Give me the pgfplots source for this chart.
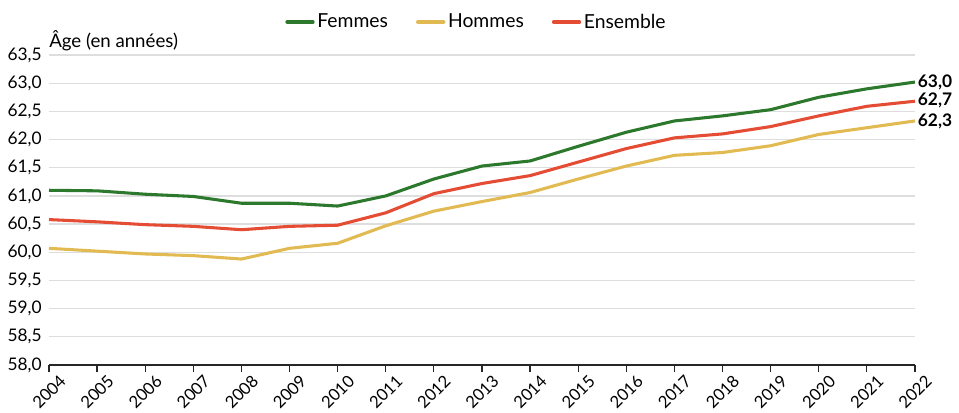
\documentclass[border=0pt]{standalone}
\usepackage{fontspec}
\setmainfont{Lato}
\usepackage{pgfplots}
\pgfplotsset{compat=1.18}
\definecolor{cF}{RGB}{44,120,44}
\definecolor{cH}{RGB}{226,186,82}
\definecolor{cE}{RGB}{228,76,52}
\definecolor{gridc}{RGB}{222,222,222}
\begin{document}
\begin{tikzpicture}
\begin{axis}[
  scale only axis,
  width=649.5pt, height=232.5pt,
  xmin=2004, xmax=2022, ymin=58, ymax=63.5,
  xtick={2004,...,2022},
  ytick={58,58.5,...,63.5},
  /pgf/number format/assume math mode=true,
  font=\fontsize{13pt}{15pt}\selectfont,
  xticklabel style={/pgf/number format/1000 sep={}, rotate=45, anchor=north east, inner sep=1pt, xshift=5pt, yshift=-5pt, font=\fontsize{12.5pt}{14pt}\selectfont},
  yticklabel style={/pgf/number format/.cd, fixed, fixed zerofill, precision=1, use comma, /tikz/.cd, font=\fontsize{13pt}{15pt}\selectfont, xshift=3pt},
  ymajorgrids, grid style={gridc, line width=0.9pt},
  axis x line=bottom, axis y line=left,
  x axis line style={-, black!85, line width=0.9pt},
  y axis line style={draw=none},
  xtick style={black!85, line width=0.9pt},
  tick align=outside, major tick length=5pt,
  ytick style={draw=none},
  clip=false,
  legend style={at={(0.494,1.0)}, anchor=center, yshift=24.75pt, draw=none, fill=none, legend columns=-1, font=\fontsize{14.5pt}{16pt}\selectfont,
    /tikz/every even column/.append style={column sep=19pt}},
  legend image code/.code={\draw[#1, line width=3pt, line cap=round] (0pt,0pt) -- (19pt,0pt);},
]
\addplot[cF, line width=2.3pt] coordinates {
(2004,61.10)(2005,61.09)(2006,61.03)(2007,60.99)(2008,60.87)(2009,60.87)(2010,60.82)(2011,61.00)(2012,61.30)(2013,61.53)(2014,61.62)(2015,61.88)(2016,62.13)(2017,62.33)(2018,62.42)(2019,62.53)(2020,62.75)(2021,62.90)(2022,63.02)};
\addlegendentry{Femmes}
\addplot[cH, line width=2.3pt] coordinates {
(2004,60.07)(2005,60.02)(2006,59.97)(2007,59.94)(2008,59.88)(2009,60.07)(2010,60.16)(2011,60.47)(2012,60.73)(2013,60.90)(2014,61.06)(2015,61.30)(2016,61.53)(2017,61.72)(2018,61.77)(2019,61.89)(2020,62.09)(2021,62.21)(2022,62.33)};
\addlegendentry{Hommes}
\addplot[cE, line width=2.3pt] coordinates {
(2004,60.58)(2005,60.54)(2006,60.49)(2007,60.46)(2008,60.40)(2009,60.46)(2010,60.48)(2011,60.70)(2012,61.04)(2013,61.22)(2014,61.36)(2015,61.60)(2016,61.84)(2017,62.03)(2018,62.10)(2019,62.23)(2020,62.42)(2021,62.59)(2022,62.68)};
\addlegendentry{Ensemble}
\node[anchor=west, font=\bfseries\fontsize{13pt}{15pt}\selectfont, inner sep=2pt] at (axis cs:2022,63.02) {63,0};
\node[anchor=west, font=\bfseries\fontsize{13pt}{15pt}\selectfont, inner sep=2pt] at (axis cs:2022,62.70) {62,7};
\node[anchor=west, font=\bfseries\fontsize{13pt}{15pt}\selectfont, inner sep=2pt] at (axis cs:2022,62.33) {62,3};
\node[anchor=base west, inner sep=0pt, yshift=6pt, font=\fontsize{14pt}{16pt}\selectfont] at (rel axis cs:0,1) {Âge (en années)};
\coordinate (bl) at (rel axis cs:0,0);
\coordinate (tr) at (rel axis cs:1,1);
\end{axis}
\pgfresetboundingbox
\path[use as bounding box] ([xshift=-36.75pt,yshift=-36pt]bl) rectangle ([xshift=33pt,yshift=41.25pt]tr);
\end{tikzpicture}
\end{document}
